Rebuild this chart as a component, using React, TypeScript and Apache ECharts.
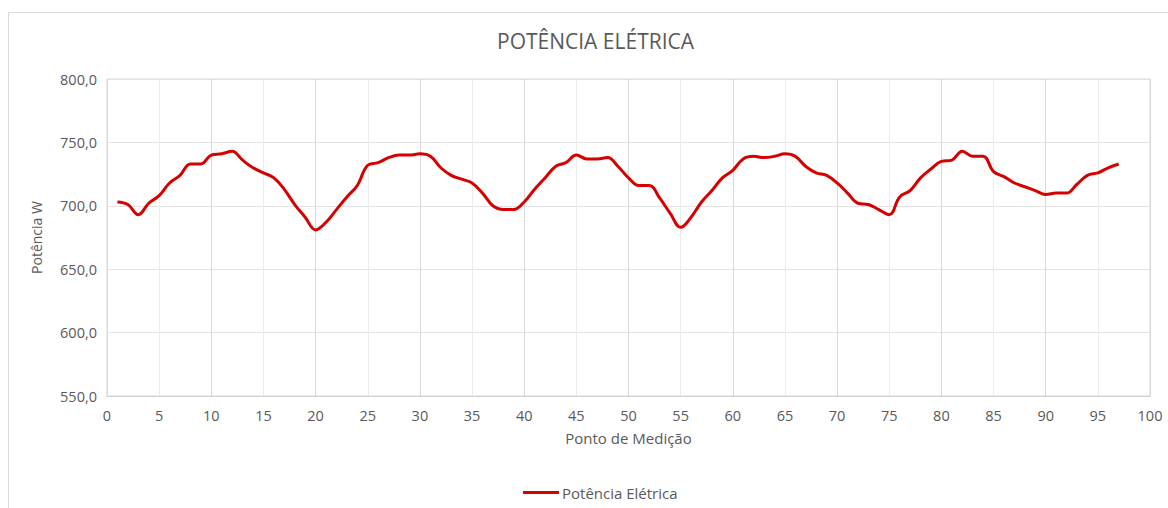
import React, { useEffect, useRef } from "react";
import * as echarts from "echarts";

const titleText = "POTÊNCIA ELÉTRICA";
const seriesName = "Potência Elétrica";
const xAxisName = "Ponto de Medição";
const yAxisName = "Potência W";

const points: number[] = [
  1, 2, 3, 4, 5, 6, 7, 8, 9, 10, 11, 12, 13, 14, 15, 16, 17, 18, 19, 20,
  21, 22, 23, 24, 25, 26, 27, 28, 29, 30, 31, 32, 33, 34, 35, 36, 37, 38, 39, 40,
  41, 42, 43, 44, 45, 46, 47, 48, 49, 50, 51, 52, 53, 54, 55, 56, 57, 58, 59, 60,
  61, 62, 63, 64, 65, 66, 67, 68, 69, 70, 71, 72, 73, 74, 75, 76, 77, 78, 79, 80,
  81, 82, 83, 84, 85, 86, 87, 88, 89, 90, 91, 92, 93, 94, 95, 96, 97,
];

const power: number[] = [
  703, 701, 693, 702, 708, 718, 724, 733, 733, 740,
  741, 743, 736, 730, 726, 722, 713, 701, 691, 681,
  687, 697, 707, 716, 732, 734, 738, 740, 740, 741,
  739, 730, 724, 721, 718, 710, 700, 697, 697, 703,
  713, 722, 731, 734, 740, 737, 737, 738, 731, 722,
  716, 716, 706, 694, 683, 691, 703, 712, 722, 728,
  737, 739, 738, 739, 741, 739, 731, 726, 724, 718,
  710, 702, 701, 697, 693, 707, 712, 722, 729, 735,
  736, 743, 739, 739, 727, 723, 718, 715, 712, 709,
  710, 710, 717, 724, 726, 730, 733,
];

const FONT = "'Open Sans', 'Liberation Sans', sans-serif";
const TEXT = "#595959";

export default function App() {
  const ref = useRef<HTMLDivElement>(null);

  useEffect(() => {
    if (!ref.current) return;
    const chart = echarts.init(ref.current, undefined, { renderer: "svg" });
    chart.setOption({
      animation: false,
      backgroundColor: "#ffffff",
      textStyle: { fontFamily: FONT },
      title: {
        text: titleText,
        left: 492,
        top: 25,
        textStyle: { fontFamily: FONT, fontSize: 21, fontWeight: "normal", color: TEXT },
      },
      graphic: [
        {
          type: "rect",
          shape: { x: 8.5, y: 12.5, width: 1200, height: 600 },
          style: { fill: "none", stroke: "#d9d9d9", lineWidth: 1 },
          silent: true,
        },
      ],
      legend: {
        left: 518,
        top: 480,
        itemWidth: 36,
        itemHeight: 3,
        itemGap: 4,
        textStyle: { fontFamily: FONT, fontSize: 15, color: TEXT, padding: [0, 0, 0, -2] },
        data: [{ name: seriesName, icon: "rect", itemStyle: { color: "#d60000" } }],
        itemStyle: { borderWidth: 0 },
      },
      grid: {
        left: 107,
        right: 18,
        top: 79,
        bottom: 112,
        show: true,
        borderColor: "#d9d9d9",
        borderWidth: 1,
      },
      xAxis: {
        type: "value",
        min: 0,
        max: 100,
        interval: 5,
        name: xAxisName,
        nameLocation: "middle",
        nameGap: 34,
        nameTextStyle: { fontFamily: FONT, fontSize: 15, color: TEXT },
        axisLine: { show: true, lineStyle: { color: "#d0d0d0" } },
        axisTick: { show: false },
        axisLabel: { fontFamily: FONT, fontSize: 14.5, color: TEXT, margin: 12 },
        splitLine: { show: true, lineStyle: { color: ["#d9d9d9", "#ececec"], width: 1 } },
      },
      yAxis: {
        type: "value",
        min: 550,
        max: 800,
        interval: 50,
        name: yAxisName,
        nameLocation: "middle",
        nameGap: 64,
        nameTextStyle: { fontFamily: FONT, fontSize: 14, color: TEXT },
        axisLine: { show: false },
        axisTick: { show: false },
        axisLabel: {
          fontFamily: FONT,
          fontSize: 14.5,
          color: TEXT,
          margin: 10,
          formatter: (v: number) => v.toFixed(1).replace(".", ","),
        },
        splitLine: { show: true, lineStyle: { color: "#e3e3e3", width: 1 } },
      },
      series: [
        {
          name: seriesName,
          type: "line",
          data: points.map((p, i) => [p, power[i]]),
          smooth: 0.4,
          symbol: "none",
          lineStyle: { color: "#d60000", width: 3 },
          itemStyle: { color: "#d60000" },
        },
      ],
    });
    return () => chart.dispose();
  }, []);

  return (
    <div
      ref={ref}
      style={{ position: "absolute", left: 0, top: 0, width: 1168, height: 508 }}
    />
  );
}
